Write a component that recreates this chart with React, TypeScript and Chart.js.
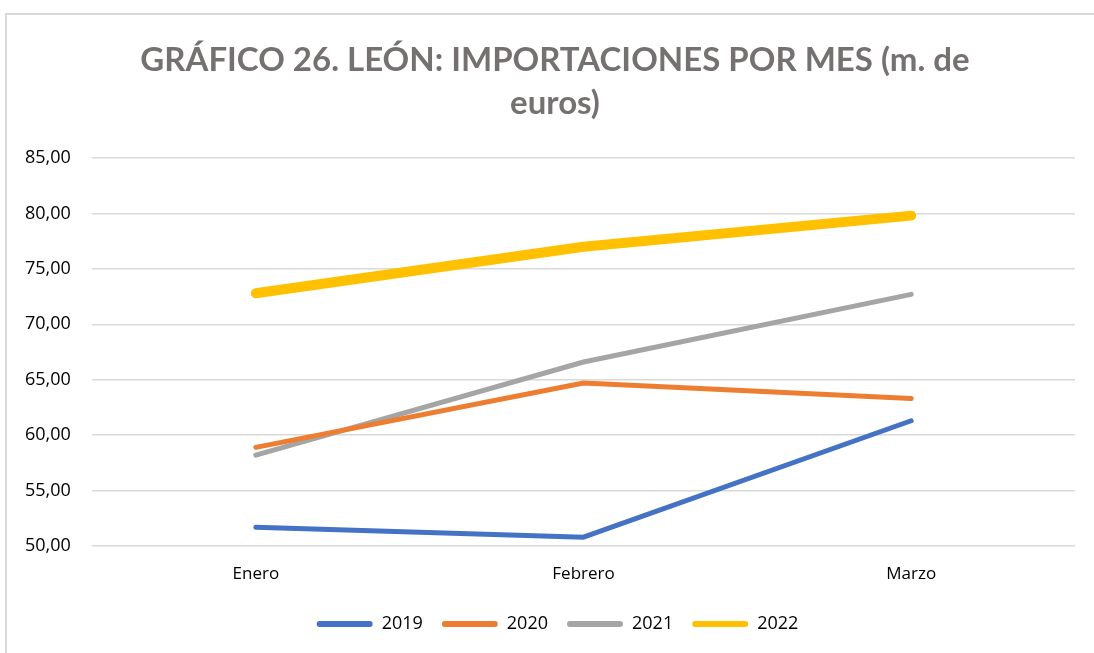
import React, { useEffect, useRef } from "react";
import { Chart, registerables } from "chart.js";

Chart.register(...registerables);

const categories = ["Enero", "Febrero", "Marzo"];
const s2019 = [51.7, 50.8, 61.3];
const s2020 = [58.9, 64.7, 63.3];
const s2021 = [58.2, 66.6, 72.7];
const s2022 = [72.8, 77.0, 79.8];
const seriesNames = ["2019", "2020", "2021", "2022"];
const titleLines = ["GRÁFICO 26. LEÓN: IMPORTACIONES POR MES (m. de", "euros)"];

const titlePlugin = {
  id: "customTitle",
  afterDraw(chart: any) {
    const ctx = chart.ctx;
    ctx.save();
    ctx.fillStyle = "#767171";
    ctx.font = "bold 33px Lato";
    ctx.textAlign = "center";
    ctx.textBaseline = "middle";
    const cx = 555;
    titleLines.forEach((t, i) => ctx.fillText(t, cx, 60 + i * 43));
    ctx.restore();
  },
};

export default function App() {
  const ref = useRef<HTMLCanvasElement | null>(null);
  useEffect(() => {
    if (!ref.current) return;
    const colors = ["#4472C4", "#ED7D31", "#A5A5A5", "#FFC000"];
    const widths = [5, 5, 5, 10];
    const values = [s2019, s2020, s2021, s2022];
    const chart = new Chart(ref.current, {
      type: "line",
      data: {
        labels: categories,
        datasets: seriesNames.map((n, i) => ({
          label: n,
          data: values[i],
          borderColor: colors[i],
          backgroundColor: colors[i],
          borderWidth: widths[i],
          pointRadius: 0,
          tension: 0,
          borderCapStyle: "round" as const,
          borderJoinStyle: "round" as const,
        })),
      },
      plugins: [titlePlugin],
      options: {
        animation: false,
        responsive: false,
        maintainAspectRatio: false,
        layout: { padding: { left: 40, right: 19, top: 158, bottom: 10 } },
        plugins: {
          title: { display: false },
          legend: {
            position: "bottom",
            labels: {
              color: "#000",
              font: { family: "Open Sans", size: 18 },
              boxWidth: 56,
              boxHeight: 6,
              padding: 19,
              generateLabels: (c: any) =>
                c.data.datasets.map((d: any, i: number) => ({
                  text: d.label,
                  fillStyle: d.borderColor,
                  strokeStyle: d.borderColor,
                  lineWidth: 0,
                  borderRadius: 3,
                  fontColor: "#000",
                  datasetIndex: i,
                  hidden: false,
                })),
              useBorderRadius: true,
              borderRadius: 3,
            },
          },
          tooltip: { enabled: false },
        },
        scales: {
          x: {
            offset: true,
            afterFit: (s: any) => {
              s.height = 50;
            },
            grid: { display: false, drawTicks: false },
            border: { display: false },
            ticks: { color: "#000", font: { family: "Open Sans", size: 17 }, padding: 18 },
          },
          y: {
            min: 50,
            max: 85,
            afterFit: (s: any) => {
              s.width = 52;
            },
            grid: { color: "#d9d9d9", lineWidth: 1.5, drawTicks: false },
            border: { display: false },
            ticks: {
              stepSize: 5,
              color: "#000",
              font: { family: "Open Sans", size: 18 },
              mirror: true,
              padding: -67,
              callback: (v: any) => Number(v).toFixed(2).replace(".", ","),
            },
          },
        },
      },
    } as any);
    return () => chart.destroy();
  }, []);
  return (
    <div style={{ position: "absolute", left: 0, top: 0, width: 1094, height: 653, overflow: "hidden", background: "#fff" }}>
      <div
        style={{
          position: "absolute",
          left: 5,
          top: 13,
          width: 1200,
          height: 700,
          border: "2px solid #d9d9d9",
          boxSizing: "border-box",
        }}
      />
      <canvas ref={ref} width={1094} height={653} style={{ position: "absolute", left: 0, top: 0 }} />
    </div>
  );
}
